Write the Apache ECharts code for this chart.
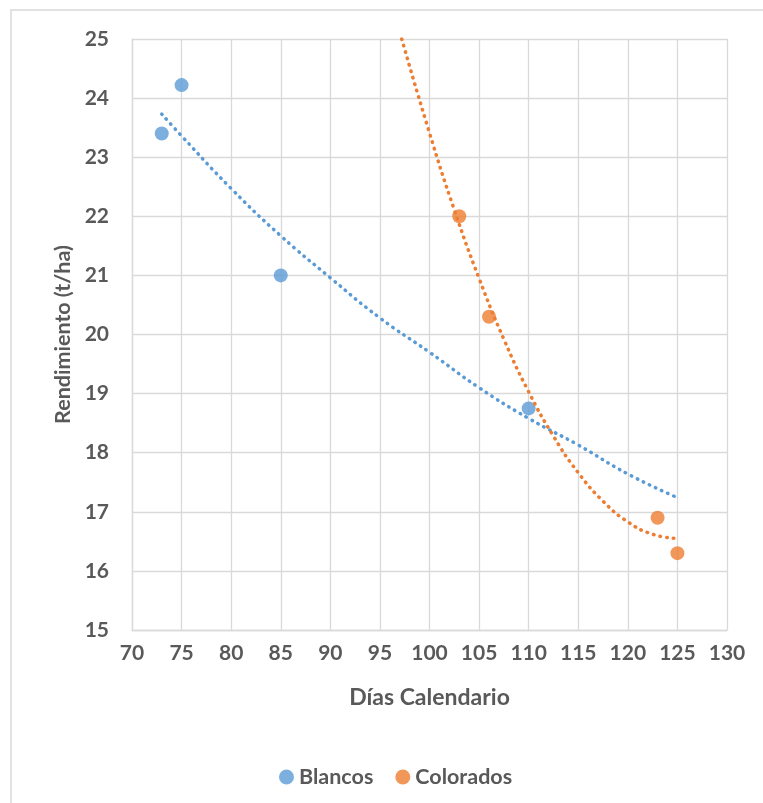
<!DOCTYPE html>
<html>
<head>
<meta charset="utf-8">
<script src="https://cdn.jsdelivr.net/npm/echarts@6/dist/echarts.min.js"></script>
<style>
html,body{margin:0;padding:0;background:#fff;}
#c{width:763px;height:803px;}
</style>
</head>
<body>
<div id="c"></div>
<script>
// Data
const blancosX = [73, 75, 85, 110];
const blancosY = [23.4, 24.22, 21.0, 18.75];
const coloradosX = [103, 106, 123, 125];
const coloradosY = [22.0, 20.3, 16.9, 16.3];

// Trend lines (dotted)
const trendBlancosX = [73, 75, 80, 85, 90, 95, 100, 105, 110, 115, 120, 125];
const trendBlancosY = [23.73, 23.36, 22.47, 21.67, 20.96, 20.28, 19.70, 19.10, 18.58, 18.13, 17.64, 17.24];
const trendColoradosX = [97.2, 100, 102.5, 105, 107.5, 110, 112.5, 115, 117.5, 120, 122.5, 125];
const trendColoradosY = [25.0, 23.41, 22.11, 20.95, 19.92, 19.03, 18.28, 17.66, 17.18, 16.83, 16.62, 16.55];

const xTicks = [70, 130, 5];
const yTicks = [15, 25, 1];

const seriesNames = ['Blancos', 'Colorados'];
const colors = ['#5B9BD5', '#ED7D31'];

function pairs(xs, ys) { return xs.map((x, i) => [x, ys[i]]); }

const FONT = 'Lato';
const TXT = '#595959';
const GRID = '#D9D9D9';

const chart = echarts.init(document.getElementById('c'));
chart.setOption({
  animation: false,
  backgroundColor: '#fff',
  graphic: [{
    type: 'rect',
    shape: { x: 11, y: 10, width: 900, height: 900 },
    style: { fill: 'none', stroke: GRID, lineWidth: 1.5 },
    silent: true, z: -10
  }],
  grid: { left: 132, right: 36, top: 39, bottom: 173, containLabel: false },
  xAxis: {
    type: 'value', min: xTicks[0], max: xTicks[1], interval: xTicks[2],
    name: 'Días Calendario', nameLocation: 'middle', nameGap: 56,
    nameTextStyle: { fontFamily: FONT, fontWeight: 'bold', fontSize: 23, color: TXT },
    axisLine: { show: true, lineStyle: { color: GRID, width: 1.3 } },
    axisTick: { show: false },
    axisLabel: { fontFamily: FONT, fontWeight: 'bold', fontSize: 21, color: TXT, margin: 13 },
    splitLine: { show: true, lineStyle: { color: GRID, width: 1.3 } }
  },
  yAxis: {
    type: 'value', min: yTicks[0], max: yTicks[1], interval: yTicks[2],
    name: 'Rendimiento (t/ha)', nameLocation: 'middle', nameGap: 58,
    nameTextStyle: { fontFamily: FONT, fontWeight: 'bold', fontSize: 21.5, color: TXT },
    axisLine: { show: true, lineStyle: { color: GRID, width: 1.3 } },
    axisTick: { show: false },
    axisLabel: { fontFamily: FONT, fontWeight: 'bold', fontSize: 21, color: TXT, margin: 23 },
    splitLine: { show: true, lineStyle: { color: GRID, width: 1.3 } }
  },
  legend: {
    data: seriesNames,
    left: 274, top: 761,
    icon: 'circle', itemWidth: 15, itemHeight: 15, itemGap: 22,
    textStyle: { fontFamily: FONT, fontWeight: 'bold', fontSize: 21.5, color: TXT }
  },
  series: [
    {
      name: seriesNames[0], type: 'scatter', symbol: 'circle', symbolSize: 14,
      itemStyle: { color: colors[0] }, data: pairs(blancosX, blancosY), z: 2
    },
    {
      name: seriesNames[1], type: 'scatter', symbol: 'circle', symbolSize: 14,
      itemStyle: { color: colors[1] }, data: pairs(coloradosX, coloradosY), z: 2
    },
    {
      name: 'Trend Blancos', type: 'line', smooth: 0.5, showSymbol: false, symbol: 'none',
      lineStyle: { color: colors[0], width: 3.5, type: [0.5, 6.2], cap: 'round' },
      data: pairs(trendBlancosX, trendBlancosY), z: 5, silent: true
    },
    {
      name: 'Trend Colorados', type: 'line', smooth: 0.5, showSymbol: false, symbol: 'none',
      lineStyle: { color: colors[1], width: 3.5, type: [0.5, 6.2], cap: 'round' },
      data: pairs(trendColoradosX, trendColoradosY), z: 5, silent: true
    }
  ]
});
</script>
</body>
</html>
